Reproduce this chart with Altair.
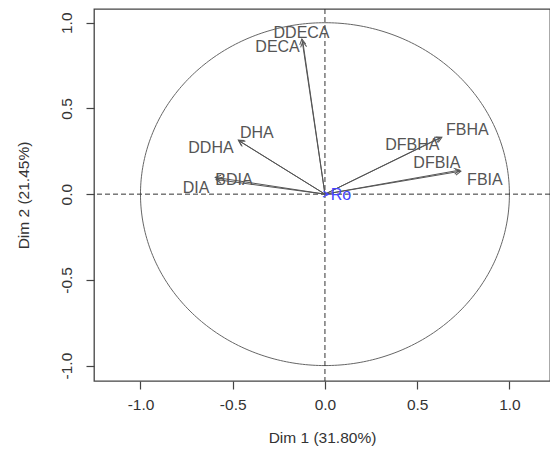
import altair as alt
import pandas as pd
import numpy as np

# ---- data ----
variables = ["DDECA", "DECA", "DHA", "DDHA", "BDIA", "DIA",
             "FBHA", "DFBHA", "FBIA", "DFBIA", "Ro"]
dim1 = [-0.125, -0.120, -0.470, -0.465, -0.595, -0.590,
        0.634, 0.625, 0.737, 0.730, 0.020]
dim2 = [0.905, 0.890, 0.315, 0.310, 0.098, 0.085,
        0.332, 0.330, 0.134, 0.140, -0.002]
label_dim1 = [-0.127, -0.257, -0.369, -0.618, -0.493, -0.699,
              0.772, 0.474, 0.867, 0.607, 0.087]
label_dim2 = [0.939, 0.857, 0.356, 0.268, 0.082, 0.035,
              0.373, 0.286, 0.082, 0.181, -0.005]
kind = ["active"] * 10 + ["supplementary"]

x_ticks = [-1.0, -0.5, 0.0, 0.5, 1.0]
y_ticks = [-1.0, -0.5, 0.0, 0.5, 1.0]
x_title = "Dim 1 (31.80%)"
y_title = "Dim 2 (21.45%)"

X_DOMAIN = [-1.252, 1.220]
Y_DOMAIN = [-1.09, 1.08]
W, H = 456, 372
FONT = "Liberation Sans"

# ---- tables ----
df = pd.DataFrame({
    "var": variables, "x": dim1, "y": dim2,
    "lx": label_dim1, "ly": label_dim2, "kind": kind,
})
df["x0"] = 0.0
df["y0"] = 0.0
sx = W / (X_DOMAIN[1] - X_DOMAIN[0])
sy = H / (Y_DOMAIN[1] - Y_DOMAIN[0])
df["angle"] = (np.degrees(np.arctan2(-df["y"] * sy, df["x"] * sx)) + 360) % 360

t = np.linspace(0, 2 * np.pi, 361)
circle = pd.DataFrame({"cx": np.cos(t), "cy": np.sin(t), "o": np.arange(len(t))})

lab_expr = "replace(format(datum.value, '.1f'), '\u2212', '-')"
xscale = alt.Scale(domain=X_DOMAIN, nice=False, zero=False)
yscale = alt.Scale(domain=Y_DOMAIN, nice=False, zero=False)
xaxis = alt.Axis(values=x_ticks, labelExpr=lab_expr, title=x_title,
                 titleY=56, titleBaseline="middle", labelPadding=8)
yaxis = alt.Axis(values=y_ticks, labelExpr=lab_expr, title=y_title,
                 labelAngle=270, labelAlign="center", labelBaseline="bottom",
                 labelPadding=12, titleX=-71, titleBaseline="middle")

color_lab = alt.Color("kind:N", scale=alt.Scale(domain=["active", "supplementary"],
                                                range=["#262626", "#2a2aff"]), legend=None)
color_line = alt.Color("kind:N", scale=alt.Scale(domain=["active", "supplementary"],
                                                 range=["#555555", "#4444ff"]), legend=None)

circ = alt.Chart(circle).mark_line(color="#666666", strokeWidth=1.0).encode(
    x=alt.X("cx:Q", scale=xscale, axis=xaxis),
    y=alt.Y("cy:Q", scale=yscale, axis=yaxis),
    order="o:Q",
)

zero_df = pd.DataFrame({"z": [0.0]})
vline = alt.Chart(zero_df).mark_rule(color="#333333", strokeDash=[5, 3], strokeWidth=1.0).encode(
    x=alt.X("z:Q", scale=xscale))
hline = alt.Chart(zero_df).mark_rule(color="#333333", strokeDash=[5, 3], strokeWidth=1.0).encode(
    y=alt.Y("z:Q", scale=yscale))

arrows = alt.Chart(df).mark_rule(strokeWidth=1.0).encode(
    x=alt.X("x0:Q", scale=xscale), y=alt.Y("y0:Q", scale=yscale),
    x2="x:Q", y2="y:Q", color=color_line,
)

heads = alt.Chart(df).mark_point(
    shape="M-1,-0.55L0,0L-1,0.55", filled=False, size=121, strokeWidth=1.0, opacity=1
).encode(
    x=alt.X("x:Q", scale=xscale), y=alt.Y("y:Q", scale=yscale),
    angle=alt.Angle("angle:Q", scale=None), color=color_line,
)

labels = alt.Chart(df).mark_text(font=FONT, fontSize=16, align="center", baseline="middle").encode(
    x=alt.X("lx:Q", scale=xscale), y=alt.Y("ly:Q", scale=yscale),
    text="var:N", color=color_lab,
)

chart = alt.layer(circ, vline, hline, arrows, heads, labels).properties(
    width=W, height=H,
    background="white",
    autosize=alt.AutoSizeParams(type="none"),
    padding={"left": 86, "top": 1, "right": 0, "bottom": 67},
).configure_view(
    stroke="#444444", strokeWidth=1.3,
).configure_axis(
    grid=False, domain=False, tickColor="#444444", tickSize=8, tickWidth=1.2,
    labelFont=FONT, labelFontSize=15.5, labelColor="#333333",
    titleFont=FONT, titleFontSize=15.5, titleColor="#333333", titleFontWeight="normal",
)

chart.save("out.html", embed_options={"renderer": "svg", "actions": False})
